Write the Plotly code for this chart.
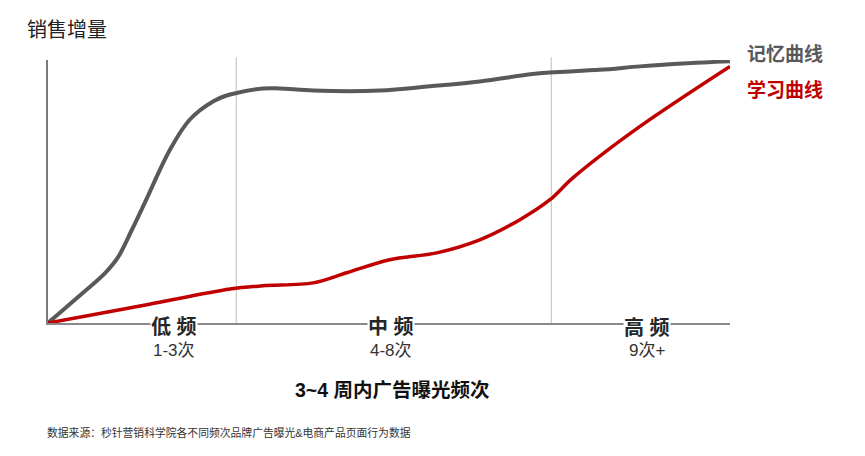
import plotly.graph_objects as go

# ---- data (normalised: x 0-100 exposure scale, y 0-100 sales lift) ----
memory_x = [0, 4.4, 8.4, 10.3, 12.3, 14.2, 17.9, 20.8, 24.2, 26.7, 31.5, 34.0, 38.9, 48.7, 56.0, 63.3, 70.7, 73.6, 80.9, 86.8, 93.1, 100]
memory_y = [0, 9.8, 18.9, 24.9, 35.1, 45.3, 65.3, 76.6, 83.4, 86.0, 88.3, 88.3, 87.5, 87.5, 89.1, 90.9, 93.6, 94.3, 95.3, 96.6, 97.7, 98.5]

learning_x = [0, 13.5, 26.7, 31.5, 38.9, 43.8, 50.1, 57.0, 63.3, 69.2, 73.6, 77.0, 86.8, 100]
learning_y = [0, 6.4, 12.8, 14.0, 15.1, 18.9, 23.8, 26.4, 31.3, 38.9, 46.4, 54.7, 74.0, 96.6]

band_boundaries = [27.6, 73.8]
band_names = ["低 频", "中 频", "高 频"]
band_ranges = ["1-3次", "4-8次", "9次+"]
band_label_x = [18.5, 50.3, 87.8]

series_names = ["记忆曲线", "学习曲线"]
series_colors = ["#595959", "#c00000"]

y_title = "销售增量"
x_title = "3~4 周内广告曝光频次"
source_note = "数据来源：秒针营销科学院各不同频次品牌广告曝光&电商产品页面行为数据"

FONT = "Liberation Sans, Noto Sans CJK SC, sans-serif"

fig = go.Figure()
fig.add_trace(go.Scatter(x=memory_x, y=memory_y, mode="lines",
                         line=dict(color=series_colors[0], width=4, shape="spline", smoothing=1.0),
                         name=series_names[0], hoverinfo="skip"))
fig.add_trace(go.Scatter(x=learning_x, y=learning_y, mode="lines",
                         line=dict(color=series_colors[1], width=3.5, shape="spline", smoothing=0.9),
                         name=series_names[1], hoverinfo="skip"))

shapes = []
for b in band_boundaries:
    shapes.append(dict(type="line", xref="x", yref="paper", x0=b, x1=b, y0=0, y1=1.01,
                       line=dict(color="#c8c8c8", width=1.2), layer="below"))
fig.update_layout(shapes=shapes)

ann = []
for name, rng, x in zip(band_names, band_ranges, band_label_x):
    ann.append(dict(x=x, y=0, xref="x", yref="y", text=f"<b>{name}</b>", showarrow=False,
                    font=dict(family=FONT, size=20, color="#262626"), bgcolor="white",
                    yanchor="middle", yshift=-4, borderpad=0))
    ann.append(dict(x=x, y=0, xref="x", yref="y", text=rng, showarrow=False,
                    font=dict(family=FONT, size=17, color="#333333"),
                    yanchor="middle", yshift=-27))
# end labels
ann.append(dict(x=1.022, y=1.02, xref="paper", yref="paper", text=f"<b>{series_names[0]}</b>",
                showarrow=False, xanchor="left", yanchor="middle",
                font=dict(family=FONT, size=19, color=series_colors[0])))
ann.append(dict(x=1.022, y=0.885, xref="paper", yref="paper", text=f"<b>{series_names[1]}</b>",
                showarrow=False, xanchor="left", yanchor="middle",
                font=dict(family=FONT, size=19, color=series_colors[1])))
# titles
ann.append(dict(x=-0.033, y=1.115, xref="paper", yref="paper", text=y_title, showarrow=False,
                xanchor="left", yanchor="middle",
                font=dict(family=FONT, size=20, color="#222222")))
ann.append(dict(x=0.505, y=-0.255, xref="paper", yref="paper", text=f"<b>{x_title}</b>",
                showarrow=False, xanchor="center", yanchor="middle",
                font=dict(family=FONT, size=19.5, color="#111111")))
ann.append(dict(x=-0.004, y=-0.418, xref="paper", yref="paper", text=source_note,
                showarrow=False, xanchor="left", yanchor="middle",
                font=dict(family=FONT, size=10.8, color="#333333")))
fig.update_layout(annotations=ann)

fig.update_xaxes(range=[0, 100], showgrid=False, zeroline=False, showticklabels=False, ticks="",
                 showline=True, linecolor="#8a8a8a", linewidth=2)
fig.update_yaxes(range=[0, 99], showgrid=False, zeroline=False, showticklabels=False, ticks="",
                 showline=True, linecolor="#7a7a7a", linewidth=1.5)

fig.update_layout(width=865, height=456, margin=dict(l=48, r=135, t=60, b=133),
                  paper_bgcolor="white", plot_bgcolor="white", showlegend=False)

fig.write_html("out.html")
